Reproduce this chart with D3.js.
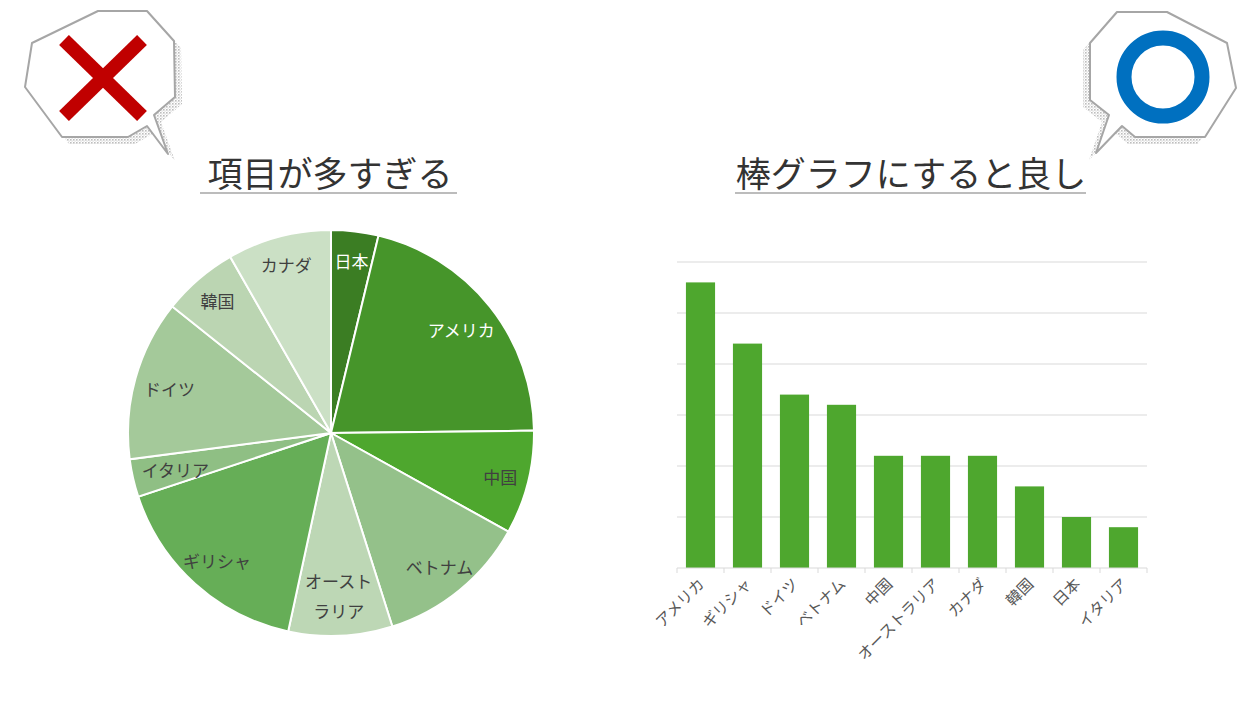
<!DOCTYPE html>
<html>
<head>
<meta charset="utf-8">
<script src="https://cdn.jsdelivr.net/npm/d3@7"></script>
<style>
  body { margin: 0; background: #fff; }
  text { font-family: "Noto Sans CJK JP", "Noto Sans", sans-serif; }
</style>
</head>
<body>
<svg id="chart" width="1247" height="701"></svg>
<script>
// pie data (clockwise from 12 o'clock)
const pieCountries = ["日本", "アメリカ", "中国", "ベトナム", "オーストラリア", "ギリシャ", "イタリア", "ドイツ", "韓国", "カナダ"]
const pieValues = [5, 28, 11, 16, 11, 22, 4, 17, 8, 11]
const pieColors = ["#3b7d23", "#46952a", "#4ea72e", "#94c18a", "#bdd7b5", "#66ae57", "#8fbf84", "#a4c99a", "#bbd5b2", "#cbe0c5"]
const pieLabelColors = ["#fff", "#fff", "#404040", "#404040", "#404040", "#404040", "#404040", "#404040", "#404040", "#404040"]

// bar data (sorted)
const barCountries = ["アメリカ", "ギリシャ", "ドイツ", "ベトナム", "中国", "オーストラリア", "カナダ", "韓国", "日本", "イタリア"]
const barValues = [28, 22, 17, 16, 11, 11, 11, 8, 5, 4]
const yTicks = [0, 5, 10, 15, 20, 25, 30]

const titles = ["項目が多すぎる", "棒グラフにすると良し"]

const svg = d3.select("#chart")

// dotted shadow pattern
const defs = svg.append("defs")
const pat = defs.append("pattern")
  .attr("id", "dots").attr("width", 3).attr("height", 3)
  .attr("patternUnits", "userSpaceOnUse")
pat.append("rect").attr("x", 0).attr("y", 0).attr("width", 1.6).attr("height", 1.6).attr("fill", "#bdbdbd")
pat.append("rect").attr("x", 1.5).attr("y", 1.5).attr("width", 1.2).attr("height", 1.2).attr("fill", "#d6d6d6")

function bubble(points, sx, sy){
  const g = svg.append("g")
  const pts = points.map(p => p.join(",")).join(" ")
  g.append("polygon").attr("points", pts)
    .attr("transform", `translate(${sx},${sy})`)
    .attr("fill", "url(#dots)")
  g.append("polygon").attr("points", pts)
    .attr("fill", "#fff")
    .attr("stroke", "#a6a6a6")
    .attr("stroke-width", 2)
    .attr("stroke-linejoin", "round")
  return g
}

// left bubble with red cross
const leftB = bubble([[32,43],[98,11],[147,11],[174,41],[175,97],[154,115],[168,154],[147,126],[128,137],[62,137],[25,87]], 7, 7)
leftB.append("line").attr("x1", 64).attr("y1", 40).attr("x2", 142).attr("y2", 116)
  .attr("stroke", "#c00000").attr("stroke-width", 14)
leftB.append("line").attr("x1", 142).attr("y1", 40).attr("x2", 64).attr("y2", 116)
  .attr("stroke", "#c00000").attr("stroke-width", 14)

// right bubble with blue circle
const rightB = bubble([[1090,43],[1117,12],[1167,12],[1227,43],[1236,88],[1205,137],[1135,137],[1122,126],[1096,153],[1109,115],[1090,100]], -7, 7)
rightB.append("circle").attr("cx", 1163).attr("cy", 77).attr("r", 39)
  .attr("fill", "none").attr("stroke", "#0070c0").attr("stroke-width", 15)

// titles
const titleX = [330, 911]
const lineX = [[200, 457], [735, 1086]]
titles.forEach((t, i) => {
  svg.append("text")
    .attr("x", titleX[i]).attr("y", 171)
    .attr("text-anchor", "middle")
    .attr("dominant-baseline", "central")
    .attr("font-size", 35)
    .attr("fill", "#333")
    .text(t)
  svg.append("line")
    .attr("x1", lineX[i][0]).attr("x2", lineX[i][1])
    .attr("y1", 193).attr("y2", 193)
    .attr("stroke", "#a6a6a6").attr("stroke-width", 1.5)
})

// ---- pie ----
const cx = 331, cy = 433, R = 203
const pieG = svg.append("g").attr("transform", `translate(${cx},${cy})`)
const arcs = d3.pie().sort(null).value(d => d)(pieValues)
const arc = d3.arc().innerRadius(0).outerRadius(R)

pieG.selectAll("path.slice").data(arcs).join("path")
  .attr("class", "slice")
  .attr("d", arc)
  .attr("fill", (d, i) => pieColors[i])
  .attr("stroke", "#fff")
  .attr("stroke-width", 2)

const lineH = 30
arcs.forEach((d, i) => {
  const name = pieCountries[i]
  const lines = name.length > 5 ? [name.slice(0, 4), name.slice(4)] : [name]
  const mid = (d.startAngle + d.endAngle) / 2
  const t = pieG.append("text")
    .attr("text-anchor", "middle")
    .attr("dominant-baseline", "central")
    .attr("font-size", 17)
    .attr("fill", pieLabelColors[i])
  lines.forEach((l, j) => t.append("tspan").attr("x", 0).attr("dy", j === 0 ? 0 : lineH).text(l))
  const w = t.node().getBBox().width
  // pull the label inward until it fits horizontally inside the circle
  let rr = lines.length > 1 ? R * 0.8 : R * 0.86
  for (; rr > R * 0.4; rr -= 1) {
    const lx = Math.sin(mid) * rr
    const ly = -Math.cos(mid) * rr - (lines.length - 1) * lineH / 2
    let ok = true
    lines.forEach((l, j) => {
      const y = ly + j * lineH
      const half = Math.sqrt(Math.max(0, R * R - y * y)) - 10
      if (lx - w / 2 < -half || lx + w / 2 > half) ok = false
    })
    if (ok) break
  }
  const lx = Math.sin(mid) * rr
  const ly = -Math.cos(mid) * rr - (lines.length - 1) * lineH / 2
  t.attr("transform", `translate(${lx},${ly})`)
})

// ---- bar chart ----
const x = d3.scaleBand().domain(barCountries).range([677, 1147])
  .paddingInner(0.38).paddingOuter(0.19)
const y = d3.scaleLinear().domain([0, 30]).range([568, 262])

const barG = svg.append("g")
barG.selectAll("line.grid").data(yTicks.slice(1)).join("line")
  .attr("class", "grid")
  .attr("x1", 677).attr("x2", 1147)
  .attr("y1", d => y(d)).attr("y2", d => y(d))
  .attr("stroke", "#d9d9d9").attr("stroke-width", 1)

barG.selectAll("rect").data(barValues).join("rect")
  .attr("x", (d, i) => x(barCountries[i]))
  .attr("y", d => y(d))
  .attr("width", x.bandwidth())
  .attr("height", d => y(0) - y(d))
  .attr("fill", "#4ea72e")

// x axis line and boundary ticks
barG.append("line")
  .attr("x1", 677).attr("x2", 1147).attr("y1", y(0)).attr("y2", y(0))
  .attr("stroke", "#d9d9d9").attr("stroke-width", 1.2)
const step = x.step()
const bounds = d3.range(barCountries.length + 1).map(i => 677 + i * step)
barG.selectAll("line.tick").data(bounds).join("line")
  .attr("class", "tick")
  .attr("x1", d => d).attr("x2", d => d)
  .attr("y1", y(0)).attr("y2", y(0) + 5)
  .attr("stroke", "#d9d9d9")

barG.selectAll("text.xl").data(barCountries).join("text")
  .attr("class", "xl")
  .attr("text-anchor", "end")
  .attr("font-size", 15.5)
  .attr("fill", "#595959")
  .attr("transform", d => `translate(${x(d) + x.bandwidth() / 2 + 5},${y(0) + 17}) rotate(-45)`)
  .text(d => d)
</script>
</body>
</html>
